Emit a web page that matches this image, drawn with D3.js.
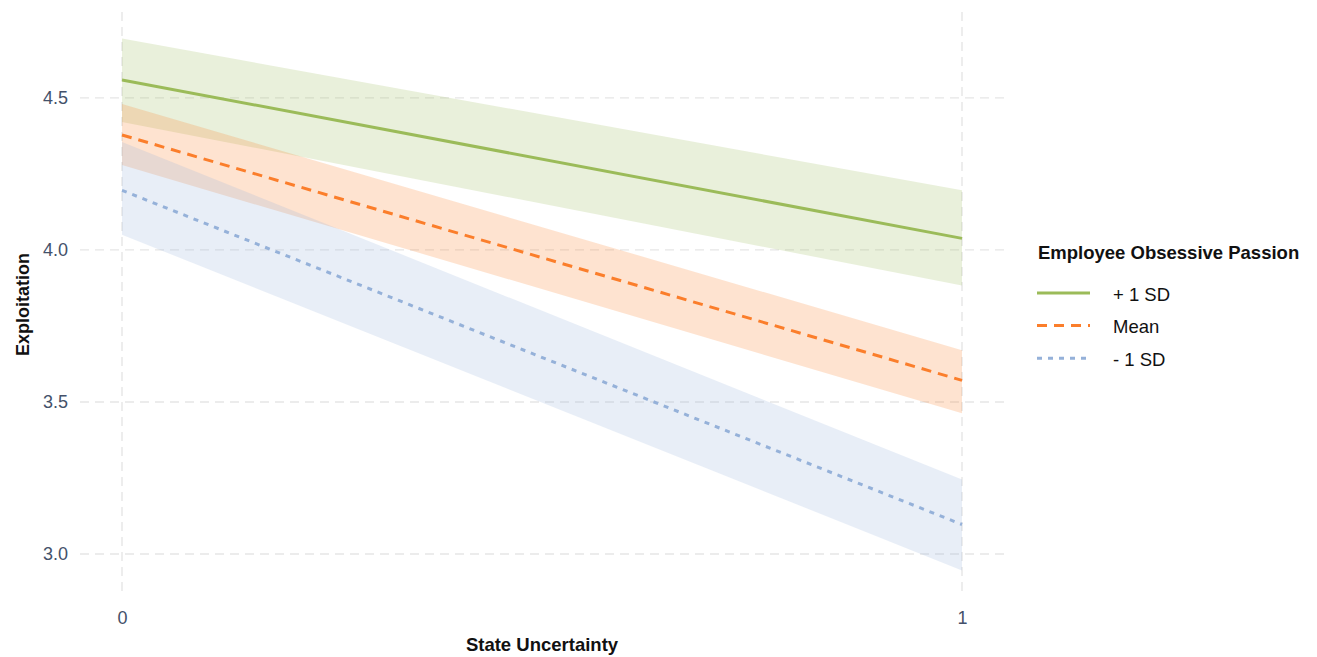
<!DOCTYPE html>
<html>
<head>
<meta charset="utf-8">
<script src="https://cdn.jsdelivr.net/npm/d3@7"></script>
<style>
  html, body { margin: 0; padding: 0; background: #fff; }
  svg { display: block; font-family: "Liberation Sans", Arial, sans-serif; }
</style>
</head>
<body>
<svg id="chart" width="1317" height="657"></svg>
<script>
// Simple slopes: predicted Exploitation at State Uncertainty = 0 and 1
const xValues = [0, 1];
const groups = ["+ 1 SD", "Mean", "- 1 SD"];
const fitHigh = [4.559, 4.038];
const fitMean = [4.378, 3.571];
const fitLow  = [4.196, 3.097];
const upperHigh = [4.695, 4.196];
const lowerHigh = [4.421, 3.883];
const upperMean = [4.480, 3.670];
const lowerMean = [4.279, 3.463];
const upperLow  = [4.355, 3.245];
const lowerLow  = [4.050, 2.946];
const yTicks = [3.0, 3.5, 4.0, 4.5];
const xTicks = [0, 1];

const colors = ["#9bbb59", "#fb7e2b", "#95b1d9"];
const dashes = [null, "10,7", "5,6"];
const fits = [fitHigh, fitMean, fitLow];
const uppers = [upperHigh, upperMean, upperLow];
const lowers = [lowerHigh, lowerMean, lowerLow];

const svg = d3.select("#chart");
const panel = { left: 80, right: 1004, top: 12, bottom: 597 };

// 5% expansion on both axes
const allY = uppers.flat().concat(lowers.flat());
const yMin = d3.min(allY), yMax = d3.max(allY);
const yPad = (yMax - yMin) * 0.05;
const x = d3.scaleLinear().domain([-0.05, 1.05]).range([panel.left, panel.right]);
const y = d3.scaleLinear().domain([yMin - yPad, yMax + yPad]).range([panel.bottom, panel.top]);

// grid
const grid = svg.append("g").attr("stroke", "#e6e6e6").attr("stroke-width", 1.4)
  .attr("stroke-dasharray", "9,6").attr("fill", "none");
grid.selectAll("line.h").data(yTicks).join("line").attr("class", "h")
  .attr("x1", panel.left).attr("x2", panel.right)
  .attr("y1", d => y(d)).attr("y2", d => y(d));
grid.selectAll("line.v").data(xTicks).join("line").attr("class", "v")
  .attr("y1", panel.top).attr("y2", panel.bottom)
  .attr("x1", d => x(d)).attr("x2", d => x(d));

// ribbons
const series = groups.map((g, i) => ({
  name: g, color: colors[i], dash: dashes[i],
  pts: xValues.map((xv, j) => ({ x: xv, fit: fits[i][j], lo: lowers[i][j], hi: uppers[i][j] }))
}));

const area = d3.area().x(d => x(d.x)).y0(d => y(d.lo)).y1(d => y(d.hi));
svg.append("g").selectAll("path").data(series).join("path")
  .attr("d", d => area(d.pts))
  .attr("fill", d => d.color).attr("fill-opacity", 0.22);

// fitted lines
const line = d3.line().x(d => x(d.x)).y(d => y(d.fit));
svg.append("g").selectAll("path").data(series).join("path")
  .attr("d", d => line(d.pts))
  .attr("fill", "none").attr("stroke", d => d.color).attr("stroke-width", 3)
  .attr("stroke-dasharray", d => d.dash);

// axes (labels only, no axis lines)
const yAxis = svg.append("g").attr("transform", `translate(${panel.left},0)`)
  .call(d3.axisLeft(y).tickValues(yTicks).tickFormat(d3.format(".1f")).tickSize(0).tickPadding(12));
yAxis.select(".domain").remove();
yAxis.selectAll("text").attr("font-size", 18).attr("fill", "#44516a")
  .attr("font-family", "Liberation Sans, Arial, sans-serif");

const xAxis = svg.append("g").attr("transform", `translate(0,${panel.bottom})`)
  .call(d3.axisBottom(x).tickValues(xTicks).tickFormat(d3.format("d")).tickSize(0).tickPadding(14));
xAxis.select(".domain").remove();
xAxis.selectAll("text").attr("font-size", 18).attr("fill", "#44516a")
  .attr("font-family", "Liberation Sans, Arial, sans-serif");

// axis titles
svg.append("text").attr("x", (panel.left + panel.right) / 2).attr("y", 651)
  .attr("text-anchor", "middle").attr("font-weight", "bold").attr("font-size", 18.5)
  .attr("fill", "#111").text("State Uncertainty");
svg.append("text").attr("transform", `translate(29,${(panel.top + panel.bottom) / 2}) rotate(-90)`)
  .attr("text-anchor", "middle").attr("font-weight", "bold").attr("font-size", 18)
  .attr("fill", "#111").text("Exploitation");

// legend
const legend = svg.append("g").attr("transform", "translate(1037,0)");
legend.append("text").attr("x", 1).attr("y", 258.5).attr("font-weight", "bold")
  .attr("font-size", 18.5).attr("fill", "#111").text("Employee Obsessive Passion");
const items = legend.selectAll("g.item").data(series).join("g").attr("class", "item")
  .attr("transform", (d, i) => `translate(0,${293 + i * 32.6})`);
items.append("line").attr("x1", 0).attr("x2", 53).attr("y1", 0).attr("y2", 0)
  .attr("stroke", d => d.color).attr("stroke-width", 3).attr("stroke-dasharray", d => d.dash);
items.append("text").attr("x", 76).attr("y", 7.5).attr("font-size", 18.5).attr("fill", "#111")
  .text(d => d.name);
</script>
</body>
</html>
